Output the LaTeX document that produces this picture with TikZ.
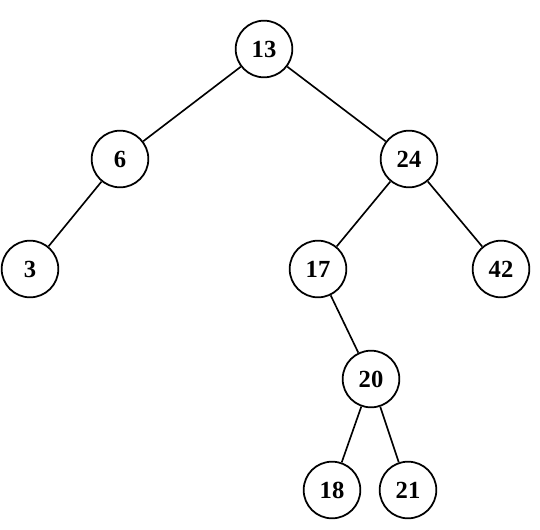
\documentclass[tikz,border=0pt]{standalone}
\usepackage{fontspec}
\setmainfont{Liberation Serif}
\usetikzlibrary{positioning}

\begin{document}
\begin{tikzpicture}[
        x=0.03cm, y=-0.03cm,
        treenode/.style={draw, circle, line width=1.5pt, minimum size=1.70cm,
            inner sep=0pt, font=\fontsize{21}{23}\selectfont\bfseries},
        edge/.style={draw, line width=1.4pt},
    ]

    \useasboundingbox (0,0) rectangle (540,529);

    % 1. Root and first level
    \node[treenode] (n13) at (264,49) {13};
    \node[treenode] (n6)  at (120,159) {6};
    \node[treenode] (n24) at (409,159) {24};

    % 2. Second level
    \node[treenode] (n3)  at (30,269) {3};
    \node[treenode] (n17) at (318,269) {17};
    \node[treenode] (n42) at (501,269) {42};

    % 3. Lower levels
    \node[treenode] (n20) at (371,379) {20};
    \node[treenode] (n18) at (332,490) {18};
    \node[treenode] (n21) at (408,490) {21};

    % --- Edges ---
    \path[edge] (n13) -- (n6);
    \path[edge] (n13) -- (n24);
    \path[edge] (n6) -- (n3);
    \path[edge] (n24) -- (n17);
    \path[edge] (n24) -- (n42);
    \path[edge] (n17) -- (n20);
    \path[edge] (n20) -- (n18);
    \path[edge] (n20) -- (n21);

\end{tikzpicture}
\end{document}
